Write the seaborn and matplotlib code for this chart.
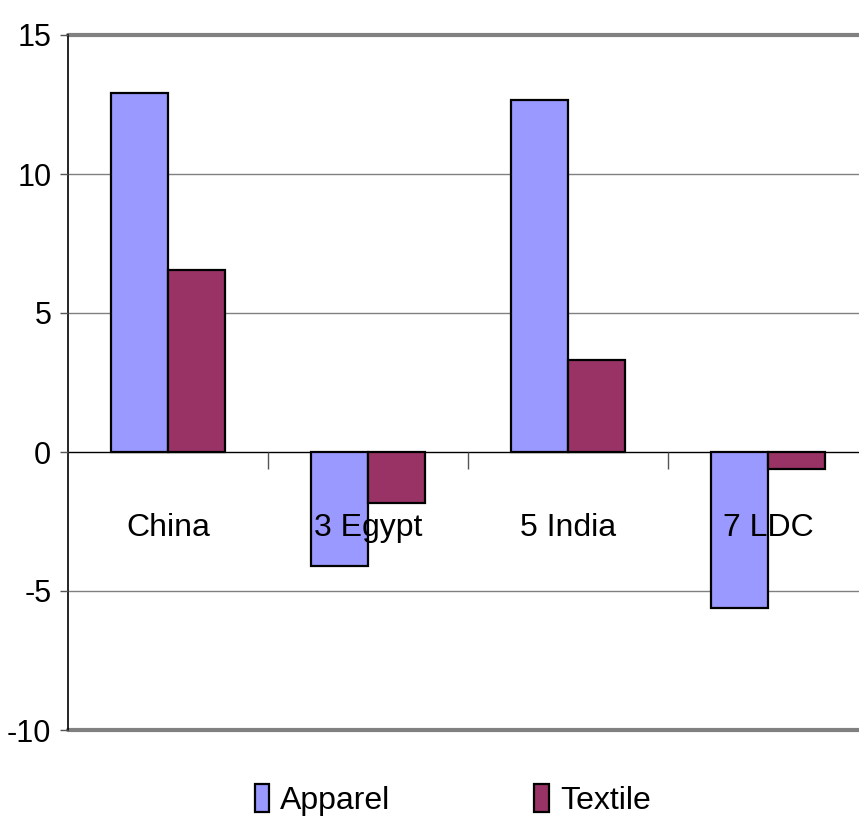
import matplotlib
matplotlib.use("Agg")
import matplotlib.pyplot as plt
from matplotlib.patches import Patch
import seaborn as sns
import pandas as pd

# Data
categories = ["China", "3 Egypt", "5 India", "7 LDC"]
apparel = [12.9, -4.1, 12.65, -5.6]
textile = [6.55, -1.85, 3.3, -0.6]
series_names = ["Apparel", "Textile"]
series_colors = ["#9999FF", "#993366"]
y_ticks = [-10, -5, 0, 5, 10, 15]

sns.set_theme(style="white")
plt.rcParams["font.family"] = ["Liberation Sans", "DejaVu Sans"]
plt.rcParams["text.color"] = "black"
fs = 23

df = pd.DataFrame({
    "category": categories * 2,
    "value": apparel + textile,
    "series": [series_names[0]] * len(categories) + [series_names[1]] * len(categories),
})

fig = plt.figure(figsize=(8.59, 8.24), dpi=100)
ax = fig.add_axes([68 / 859, 94 / 824, 800 / 859, 695 / 824])

sns.barplot(data=df, x="category", y="value", hue="series", order=categories,
            hue_order=series_names, palette=series_colors, width=0.57,
            edgecolor="black", linewidth=1.6, saturation=1, ax=ax, legend=False,
            zorder=2)

ax.set_xlim(-0.5, 3.5)
ax.set_ylim(-10, 15)
ax.set_axisbelow(False)

# Horizontal gridlines behind the bars
for t in y_ticks:
    if t == 0:
        continue
    lw = 3 if t in (y_ticks[0], y_ticks[-1]) else 1
    ax.axhline(t, color="#808080", lw=lw, zorder=0, clip_on=False)

for s in ["top", "right"]:
    ax.spines[s].set_visible(False)
ax.spines["left"].set_color("black")
ax.spines["left"].set_linewidth(1.2)
ax.spines["left"].set_zorder(0.5)
ax.spines["bottom"].set_position(("data", 0))
ax.spines["bottom"].set_color("black")
ax.spines["bottom"].set_linewidth(1.0)
ax.spines["bottom"].set_zorder(0.5)

ax.set_yticks(y_ticks)
ax.set_yticklabels([str(t) for t in y_ticks], fontsize=22)
ax.tick_params(axis="y", which="major", direction="out", length=6, width=1,
               color="#555555", labelcolor="black", pad=6, left=True)

ax.set_xticks(range(len(categories)))
ax.set_xticklabels(categories, fontsize=fs)
ax.set_xticks([i + 0.5 for i in range(len(categories) - 1)], minor=True)
ax.tick_params(axis="x", which="major", length=0, pad=44, labelcolor="black")
ax.tick_params(axis="x", which="minor", direction="out", length=12, width=1,
               color="#555555", bottom=True)
ax.set_xlabel("")
ax.set_ylabel("")

handles = [Patch(facecolor=c, edgecolor="black", linewidth=1.6) for c in series_colors]
fig.legend(handles, series_names, loc="center", bbox_to_anchor=(0.527, 1 - 800 / 824),
           ncol=2, frameon=False, fontsize=fs, handlelength=0.45, handleheight=1.0,
           handletextpad=0.35, columnspacing=4.5)

fig.savefig("out.png", dpi=100)
